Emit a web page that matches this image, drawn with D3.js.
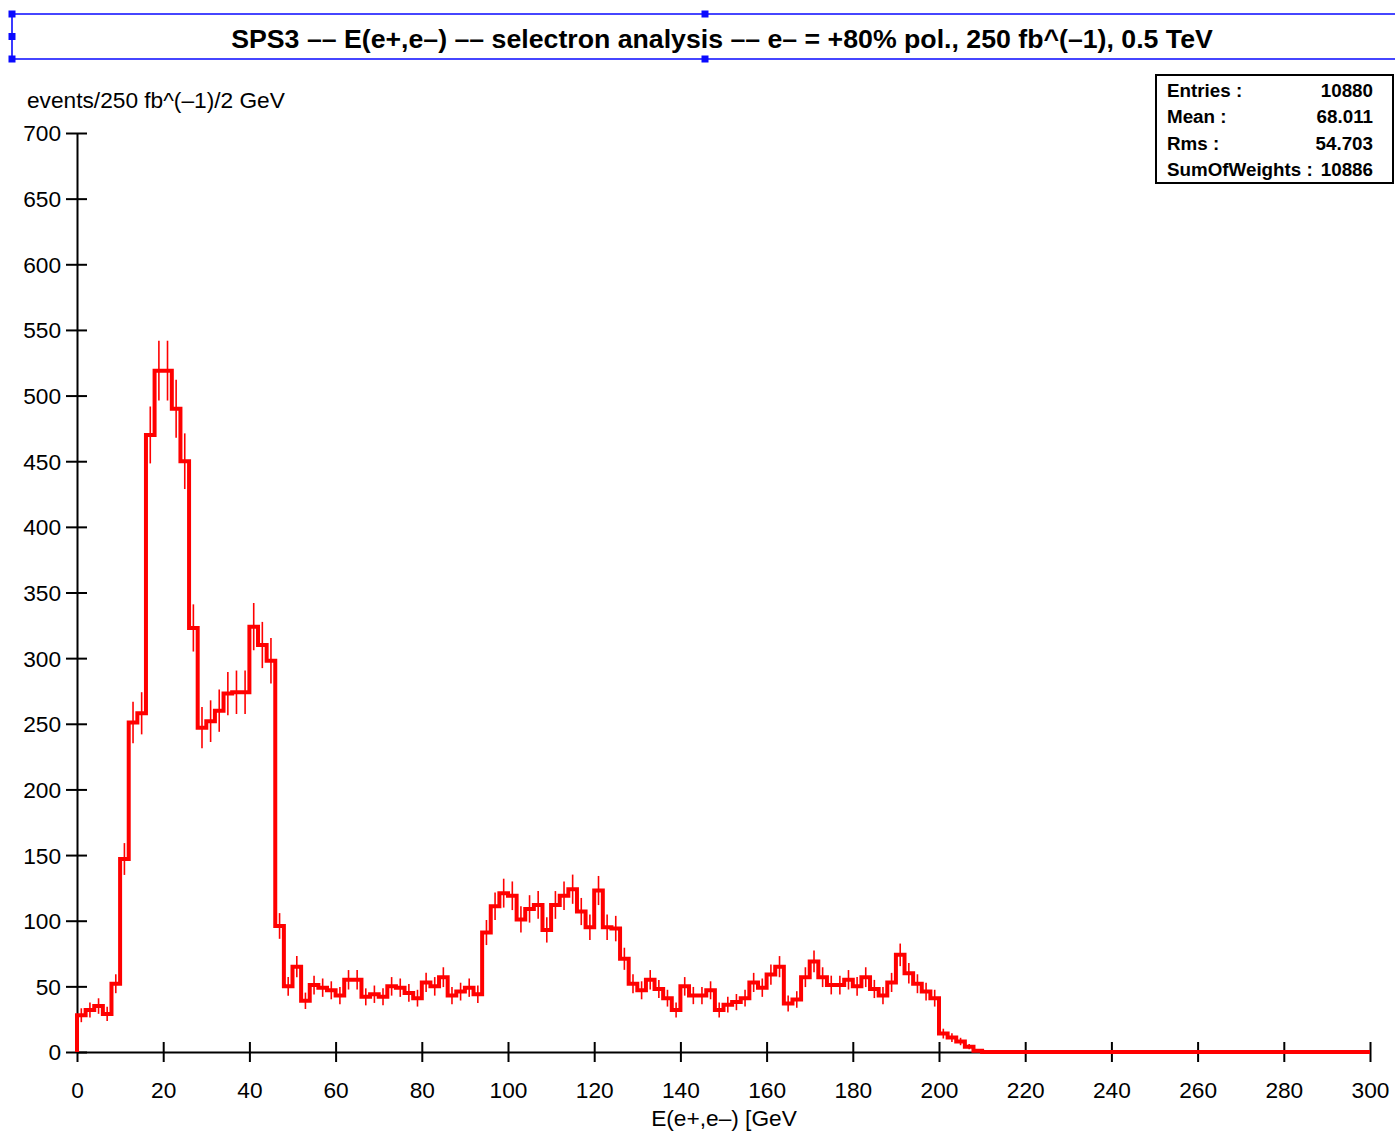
<!DOCTYPE html>
<html>
<head>
<meta charset="utf-8">
<script src="https://cdn.jsdelivr.net/npm/d3@7"></script>
<style>
  body { margin: 0; background: #fff; }
  svg text { font-family: "Liberation Sans", Arial, Helvetica, sans-serif; }
</style>
</head>
<body>
<svg id="chart" width="1395" height="1131"></svg>
<script>
// E(e+,e-) histogram, 2 GeV bins starting at 0 GeV (bins above 210 GeV are empty)
const binWidth = 2;
const xRange = [0, 300];
const counts = [
  28, 32, 35, 29, 52, 147, 251, 258, 470, 519,
  519, 490, 450, 323, 247, 252, 260, 273, 274, 274,
  324, 310, 298, 96, 50, 65, 39, 51, 49, 47,
  43, 55, 55, 42, 44, 42, 50, 49, 45, 41,
  53, 50, 57, 43, 46, 49, 44, 91, 111, 121,
  119, 101, 109, 112, 93, 112, 119, 124, 107, 95,
  123, 95, 94, 71, 52, 47, 55, 48, 41, 32,
  50, 43, 43, 47, 32, 36, 38, 41, 53, 49,
  59, 65, 37, 40, 57, 69, 57, 51, 51, 55,
  50, 57, 48, 43, 53, 74, 60, 52, 46, 41,
  14, 11, 8, 4, 1
];
const xTicks = [0, 20, 40, 60, 80, 100, 120, 140, 160, 180, 200, 220, 240, 260, 280, 300];
const yTicks = [0, 50, 100, 150, 200, 250, 300, 350, 400, 450, 500, 550, 600, 650, 700];
const statRows = [
  ["Entries :", "10880"],
  ["Mean :", "68.011"],
  ["Rms :", "54.703"],
  ["SumOfWeights :", "10886"]
];
const titleText = "SPS3 –– E(e+,e–) –– selectron analysis –– e– = +80% pol., 250 fb^(–1), 0.5 TeV";
const yLabel = "events/250 fb^(–1)/2 GeV";
const xLabel = "E(e+,e–) [GeV";

const svg = d3.select("#chart");
svg.append("rect").attr("width", 1395).attr("height", 1131).attr("fill", "#fff");

const x = d3.scaleLinear().domain(xRange).range([77, 1370]);
const y = d3.scaleLinear().domain([0, 700]).range([1052, 133]);
const labelSize = 22.7;

// ---- title box ----
const blue = "#0a0aff";
const tb = { x0: 12, x1: 1400, y0: 14, y1: 59 };
svg.append("path")
  .attr("d", `M${tb.x1},${tb.y0}H${tb.x0}V${tb.y1}H${tb.x1}`)
  .attr("fill", "none").attr("stroke", blue).attr("stroke-width", 1.6);
[[tb.x0, tb.y0], [tb.x0, (tb.y0 + tb.y1) / 2], [tb.x0, tb.y1], [705, tb.y0], [705, tb.y1]]
  .forEach(([cx, cy]) => svg.append("rect")
    .attr("x", cx - 3.5).attr("y", cy - 3.5).attr("width", 7).attr("height", 7).attr("fill", blue));
svg.append("text")
  .attr("x", 722).attr("y", 48)
  .attr("text-anchor", "middle")
  .attr("font-weight", "bold").attr("font-size", 26.7)
  .text(titleText);

// ---- axes ----
const yAxis = svg.append("g")
  .attr("transform", `translate(${x(0)},0)`)
  .call(d3.axisLeft(y).tickValues(yTicks).tickSizeInner(11).tickSizeOuter(0).tickPadding(5));
yAxis.selectAll(".tick line").attr("x1", 10);
const xAxis = svg.append("g")
  .attr("transform", `translate(0,${y(0)})`)
  .call(d3.axisBottom(x).tickValues(xTicks).tickSizeInner(10).tickSizeOuter(0).tickPadding(20));
xAxis.selectAll(".tick line").attr("y1", -10);
[yAxis, xAxis].forEach(g => {
  g.select(".domain").attr("stroke", "#000").attr("stroke-width", 2);
  g.selectAll(".tick line").attr("stroke", "#000").attr("stroke-width", 2);
  g.selectAll(".tick text").attr("font-size", labelSize).attr("fill", "#000")
    .style("font-family", '"Liberation Sans", Arial, sans-serif');
});
yAxis.selectAll(".tick text").attr("dy", "0.35em");

svg.append("text").attr("x", 27).attr("y", 108).attr("font-size", labelSize).text(yLabel);
svg.append("text").attr("x", 724).attr("y", 1126).attr("text-anchor", "middle").attr("font-size", labelSize).text(xLabel);

// ---- histogram outline ----
const steps = [[0, 0]]
  .concat(counts.map((c, i) => [i * binWidth, c]))
  .concat([[counts.length * binWidth, 0], [xRange[1], 0]]);
svg.append("path")
  .datum(steps)
  .attr("d", d3.line().x(d => x(d[0])).y(d => y(d[1])).curve(d3.curveStepAfter))
  .attr("fill", "none").attr("stroke", "#ff0000").attr("stroke-width", 4)
  .attr("stroke-linejoin", "miter");

// statistical error bars (sqrt N)
svg.append("g").selectAll("line")
  .data(counts.map((c, i) => ({ c, i })).filter(d => d.c > 1))
  .join("line")
  .attr("x1", d => x((d.i + 0.5) * binWidth)).attr("x2", d => x((d.i + 0.5) * binWidth))
  .attr("y1", d => y(d.c + Math.sqrt(d.c))).attr("y2", d => y(Math.max(0, d.c - Math.sqrt(d.c))))
  .attr("stroke", "#ff0000").attr("stroke-width", 1.6);

// ---- statistics box ----
const sb = svg.append("g");
sb.append("rect").attr("x", 1156).attr("y", 75).attr("width", 237).attr("height", 108)
  .attr("fill", "#fff").attr("stroke", "#000").attr("stroke-width", 2);
statRows.forEach(([k, v], j) => {
  const by = 97 + j * 26.3;
  sb.append("text").attr("x", 1167).attr("y", by).attr("font-size", 18.8).attr("font-weight", "bold").text(k);
  sb.append("text").attr("x", 1373).attr("y", by).attr("font-size", 18.8).attr("font-weight", "bold")
    .attr("text-anchor", "end").text(v);
});
</script>
</body>
</html>
